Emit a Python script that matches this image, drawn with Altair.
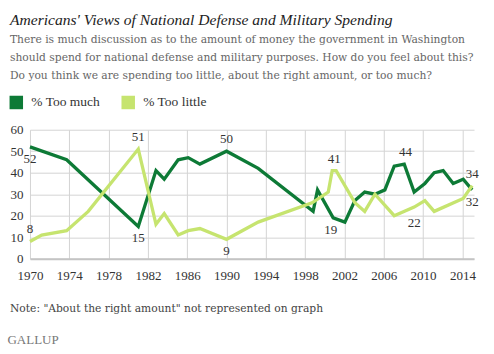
import altair as alt
import pandas as pd

FONT = "Liberation Serif"
FONT2 = "DejaVu Serif"

# ---- data ----
much_years = [1970.0, 1973.73, 1981.02, 1982.82, 1983.66, 1985.08, 1986.10, 1987.29, 1990.0,
              1993.22, 1998.81, 1999.26, 2000.85, 2002.04, 2003.06, 2004.06, 2005.10, 2006.11,
              2007.06, 2008.08, 2009.09, 2010.18, 2011.13, 2012.04, 2013.06, 2014.08, 2014.99]
too_much = [52, 46, 15, 41, 37, 46, 47, 44, 50,
            42, 22, 32, 19, 17, 27, 31, 30, 32,
            43, 44, 31, 35, 40, 41, 35, 37, 32]

little_years = [1970.0, 1971.19, 1973.73, 1975.93, 1981.02, 1982.82, 1983.66, 1985.08, 1986.10,
                1987.29, 1990.0, 1993.22, 1998.70, 2000.35, 2000.75, 2001.15, 2003.06, 2004.06,
                2005.10, 2007.06, 2009.09, 2010.18, 2011.13, 2014.08, 2014.99]
too_little = [8, 11, 13, 22, 51, 16, 21, 11, 13,
              14, 9, 17, 26, 31, 41, 41, 26, 22,
              30, 20, 24, 27, 22, 28, 34]

series_names = ["% Too much", "% Too little"]
series_colors = ["#0d7a36", "#c6e46f"]

label_years = [1970.0, 1970.0, 1981.02, 1981.02, 1990.0, 1990.0, 2000.95, 2000.6, 2008.2, 2009.09, 2014.99, 2014.99]
label_values = [52, 8, 51, 15, 50, 9, 41, 19, 44, 22, 34, 32]
label_pos = ["below", "above", "above", "below", "above", "below", "above", "below", "above", "below", "above", "below"]

x_ticks = [1970, 1974, 1978, 1982, 1986, 1990, 1994, 1998, 2002, 2006, 2010, 2014]
y_ticks = [0, 10, 20, 30, 40, 50, 60]

title_text = "Americans' Views of National Defense and Military Spending"
subtitle_lines = [
    "There is much discussion as to the amount of money the government in Washington",
    "should spend for national defense and military purposes. How do you feel about this?",
    "Do you think we are spending too little, about the right amount, or too much?",
]
note_text = 'Note: "About the right amount" not represented on graph'
logo_text = "GALLUP"

# ---- tables ----
df = pd.concat([
    pd.DataFrame({"year": much_years, "pct": too_much, "series": series_names[0], "order": 0}),
    pd.DataFrame({"year": little_years, "pct": too_little, "series": series_names[1], "order": 1}),
], ignore_index=True)

labels = pd.DataFrame({"year": label_years, "pct": label_values,
                       "text": [str(v) for v in label_values], "pos": label_pos})

x_scale = alt.Scale(domain=[1970, 2015.18], nice=False, zero=False)
y_scale = alt.Scale(domain=[0, 60], nice=False)

X = alt.X("year:Q", scale=x_scale,
          axis=alt.Axis(values=x_ticks, format="d", title=None, grid=True, ticks=False,
                        labelPadding=11, labelFlush=False, labelOverlap=False,
                        domainColor="#c4c4c4", domainWidth=2))
Y = alt.Y("pct:Q", scale=y_scale,
          axis=alt.Axis(values=y_ticks, title=None, grid=True, ticks=False, domain=False,
                        labelPadding=7, labelFlush=False, labelOverlap=False))

lines = alt.Chart(df).mark_line(strokeWidth=3.3, strokeJoin="miter").encode(
    x=X, y=Y,
    color=alt.Color("series:N", sort=series_names,
                    scale=alt.Scale(domain=series_names, range=series_colors),
                    legend=alt.Legend(title=None, orient="none", legendX=-20.7, legendY=-34.5,
                                      direction="horizontal", symbolType="square", symbolSize=1,
                                      symbolStrokeWidth=12.5, symbolOpacity=1, labelFont=FONT,
                                      labelFontSize=13.5, labelColor="#333", labelOffset=8,
                                      columnPadding=2, padding=0)),
    order="order:Q",
    detail="series:N",
)

above = alt.Chart(labels).transform_filter(alt.datum.pos == "above").mark_text(
    font=FONT, fontSize=13, color="#333", dy=-12).encode(x=X, y=Y, text="text:N")
below = alt.Chart(labels).transform_filter(alt.datum.pos == "below").mark_text(
    font=FONT, fontSize=13, color="#333", dy=12).encode(x=X, y=Y, text="text:N")

note = alt.Chart(pd.DataFrame({"t": [note_text]})).mark_text(
    font=FONT2, fontSize=10.7, color="#444", align="left", baseline="middle").encode(
    x=alt.value(-20), y=alt.value(179), text="t:N")
logo = alt.Chart(pd.DataFrame({"t": [logo_text]})).mark_text(
    font=FONT, fontSize=13, color="#777", align="left", baseline="middle").encode(
    x=alt.value(-22.5), y=alt.value(210), text="t:N")

chart = alt.layer(lines, above, below, note, logo).properties(
    width=444.3, height=129,
    autosize=alt.AutoSizeParams(type="none"),
    padding={"left": 30, "top": 129.7, "right": 20, "bottom": 95},
    title=alt.TitleParams(
        text=title_text, subtitle=subtitle_lines, anchor="start", frame="group", dx=-20,
        offset=15, font=FONT, fontSize=15.6, fontStyle="italic", fontWeight="normal", color="#222",
        subtitleFont=FONT2, subtitleFontSize=10.7, subtitleColor="#666", subtitleLineHeight=18,
        subtitlePadding=6),
).configure_view(stroke=None).configure_axis(
    labelFont=FONT, labelFontSize=13, labelColor="#333", gridColor="#d4d4d4", gridWidth=1
)

chart.save("out.html", embed_options={"renderer": "svg", "actions": False})
